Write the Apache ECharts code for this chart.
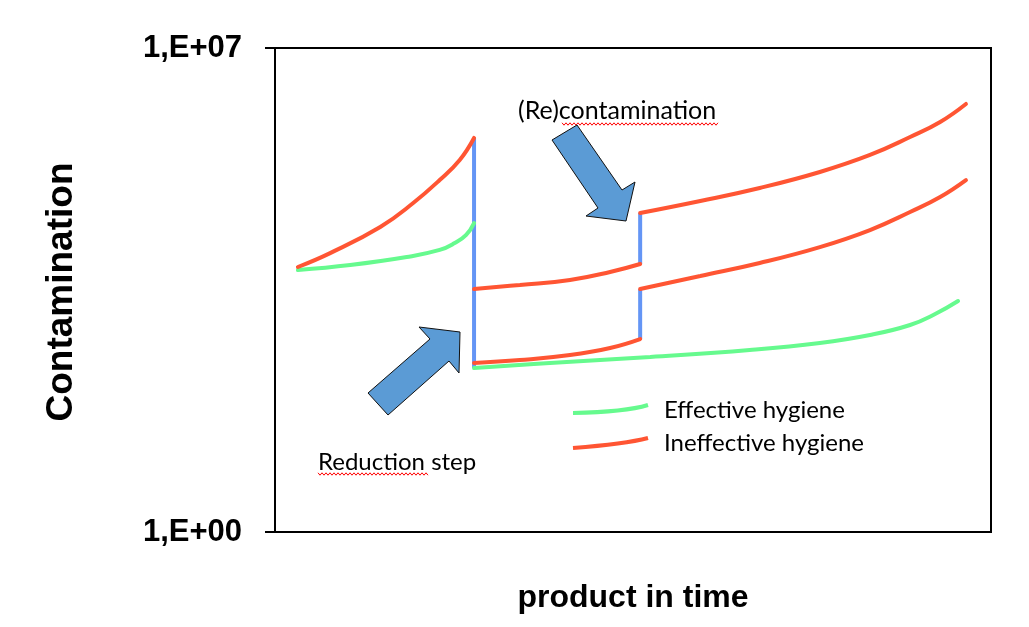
<!DOCTYPE html>
<html>
<head>
<meta charset="utf-8">
<script src="https://cdn.jsdelivr.net/npm/echarts@6/dist/echarts.min.js"></script>
<style>
html,body{margin:0;padding:0;background:#fff;}
#c{width:1029px;height:627px;}
</style>
</head>
<body>
<div id="c"></div>
<script>
// ---- data (x: product in time, arbitrary 0..100; y: contamination, log scale) ----
const yTickValues = [1, 1e7];
const yTickLabels = ['1,E+00', '1,E+07'];

// before the reduction step
const xRedA = [3.2, 7.7, 14.7, 19.3, 23.0, 25.8, 27.8];
const yRedA = [6800, 10800, 25800, 57300, 123000, 240000, 500000];
const xGreenA = [3.2, 10.5, 18.4, 23.0, 25.1, 26.7, 27.8];
const yGreenA = [6160, 7270, 9490, 12000, 15100, 19800, 29400];

// after reduction, before recontamination
const xRedMid = [27.8, 34.2, 41.2, 46.8, 51.0];
const yRedUpperMid = [3270, 3740, 4410, 5760, 7520];
const yRedLowerMid = [278, 307, 363, 459, 618];

// after recontamination
const xRedEnd = [51.0, 59.4, 67.7, 76.1, 83.1, 88.7, 92.9, 96.5];
const yRedUpperEnd = [41100, 61300, 94500, 161000, 284000, 516000, 851000, 1550000];
const yRedLowerEnd = [3270, 5040, 7780, 13200, 23300, 42500, 70000, 123000];

// effective hygiene after reduction
const xGreenB = [27.8, 38.4, 52.4, 66.3, 76.1, 83.1, 88.7, 92.2, 95.4];
const yGreenB = [235, 278, 340, 429, 542, 707, 986, 1420, 2190];

// vertical steps
const xReduction = 27.8;
const yReduction = [500000, 235];
const xRecontam = 51.0;
const yRecontamUpper = [7520, 41100];
const yRecontamLower = [618, 3270];

const legendLabels = ['Effective hygiene', 'Ineffective hygiene'];
const annotReduction = 'Reduction step';
const annotRecontam = '(Re)contamination';
const yTitle = 'Contamination';
const xTitle = 'product in time';

// ---- styling ----
const RED = '#FF5533';
const GREEN = '#66FA8E';
const BLUE = '#6495F5';
const ARROW = '#5B9BD5';
const zip = (xs, ys) => xs.map((x, i) => [x, ys[i]]);

function curve(name, xs, ys, color) {
  return {
    type: 'line', name: name, data: zip(xs, ys), smooth: 0.45,
    showSymbol: false, symbol: 'none', silent: true,
    lineStyle: { color: color, width: 4, cap: 'round' }, z: 3
  };
}
function step(x, ys) {
  return {
    type: 'line', data: ys.map(v => [x, v]), showSymbol: false, symbol: 'none', silent: true,
    lineStyle: { color: BLUE, width: 4 }, z: 2
  };
}

function wavy(x0, x1, y) {
  const pts = [];
  let up = true;
  for (let x = x0; x <= x1; x += 2) { pts.push([x, y + (up ? -1.2 : 1.2)]); up = !up; }
  return { type: 'polyline', shape: { points: pts }, style: { stroke: '#FF0000', lineWidth: 1, fill: null }, silent: true };
}

const chart = echarts.init(document.getElementById('c'), null, { renderer: 'canvas' });
const sansBold = '"Liberation Sans", Arial, sans-serif';
const calibriLike = 'Lato, "Open Sans", sans-serif';

chart.setOption({
  animation: false,
  backgroundColor: '#ffffff',
  grid: { left: 275, top: 48, right: 38, bottom: 95, show: true, borderColor: '#000', borderWidth: 2, backgroundColor: 'transparent' },
  xAxis: {
    type: 'value', min: 0, max: 100,
    axisLine: { show: true, lineStyle: { color: '#000', width: 2 } },
    axisTick: { show: false }, axisLabel: { show: false }, splitLine: { show: false }
  },
  yAxis: {
    type: 'log', logBase: 10, min: 1, max: 1e7,
    axisLine: { show: true, lineStyle: { color: '#000', width: 2 } },
    axisTick: { show: true, customValues: yTickValues, length: 10, lineStyle: { color: '#000', width: 2 } },
    axisLabel: {
      show: true, customValues: yTickValues, margin: 33,
      formatter: v => yTickLabels[yTickValues.indexOf(v)] ?? '',
      fontFamily: sansBold, fontWeight: 'bold', fontSize: 31, color: '#000'
    },
    splitLine: { show: false }, minorTick: { show: false }
  },
  series: [
    step(xReduction, yReduction),
    step(xRecontam, yRecontamUpper),
    step(xRecontam, yRecontamLower),
    curve('Effective hygiene', xGreenA, yGreenA, GREEN),
    curve('Effective hygiene', xGreenB, yGreenB, GREEN),
    curve('Ineffective hygiene', xRedA, yRedA, RED),
    curve('Ineffective hygiene', xRedMid, yRedUpperMid, RED),
    curve('Ineffective hygiene', xRedMid, yRedLowerMid, RED),
    curve('Ineffective hygiene', xRedEnd, yRedUpperEnd, RED),
    curve('Ineffective hygiene', xRedEnd, yRedLowerEnd, RED)
  ],
  graphic: [
    // axis titles
    { type: 'text', x: 62, y: 292, rotation: Math.PI / 2, style: { text: yTitle, font: 'bold 37px ' + sansBold, fill: '#000', align: 'center', verticalAlign: 'middle' } },
    { type: 'text', x: 633, y: 598, style: { text: xTitle, font: 'bold 32px ' + sansBold, fill: '#000', align: 'center', verticalAlign: 'middle' } },
    // annotations
    { type: 'text', x: 518, y: 111, style: { text: annotRecontam, font: '25px ' + calibriLike, fill: '#000', align: 'left', verticalAlign: 'middle' } },
    wavy(562, 718, 124),
    { type: 'text', x: 318, y: 462, style: { text: annotReduction, font: '24px ' + calibriLike, fill: '#000', align: 'left', verticalAlign: 'middle' } },
    wavy(318, 428, 474),
    // arrows
    { type: 'polygon', shape: { points: [[552,140],[577,125],[622,190],[635,182],[626,221],[586,216],[598,208]] }, style: { fill: ARROW, stroke: '#111', lineWidth: 1 }, z: 10 },
    { type: 'polygon', shape: { points: [[368,393],[430,339],[419,327],[460,332],[459,373],[449,361],[388,415]] }, style: { fill: ARROW, stroke: '#111', lineWidth: 1 }, z: 10 },
    // legend
    { type: 'bezierCurve', shape: { x1: 573, y1: 413, x2: 648, y2: 405, cpx1: 625, cpy1: 412 }, style: { stroke: GREEN, lineWidth: 4, fill: null } },
    { type: 'bezierCurve', shape: { x1: 573, y1: 448, x2: 648, y2: 438, cpx1: 625, cpy1: 444 }, style: { stroke: RED, lineWidth: 4, fill: null } },
    { type: 'text', x: 664, y: 410, style: { text: legendLabels[0], font: '24px ' + calibriLike, fill: '#000', align: 'left', verticalAlign: 'middle' } },
    { type: 'text', x: 664, y: 443, style: { text: legendLabels[1], font: '24px ' + calibriLike, fill: '#000', align: 'left', verticalAlign: 'middle' } }
  ]
});
</script>
</body>
</html>
